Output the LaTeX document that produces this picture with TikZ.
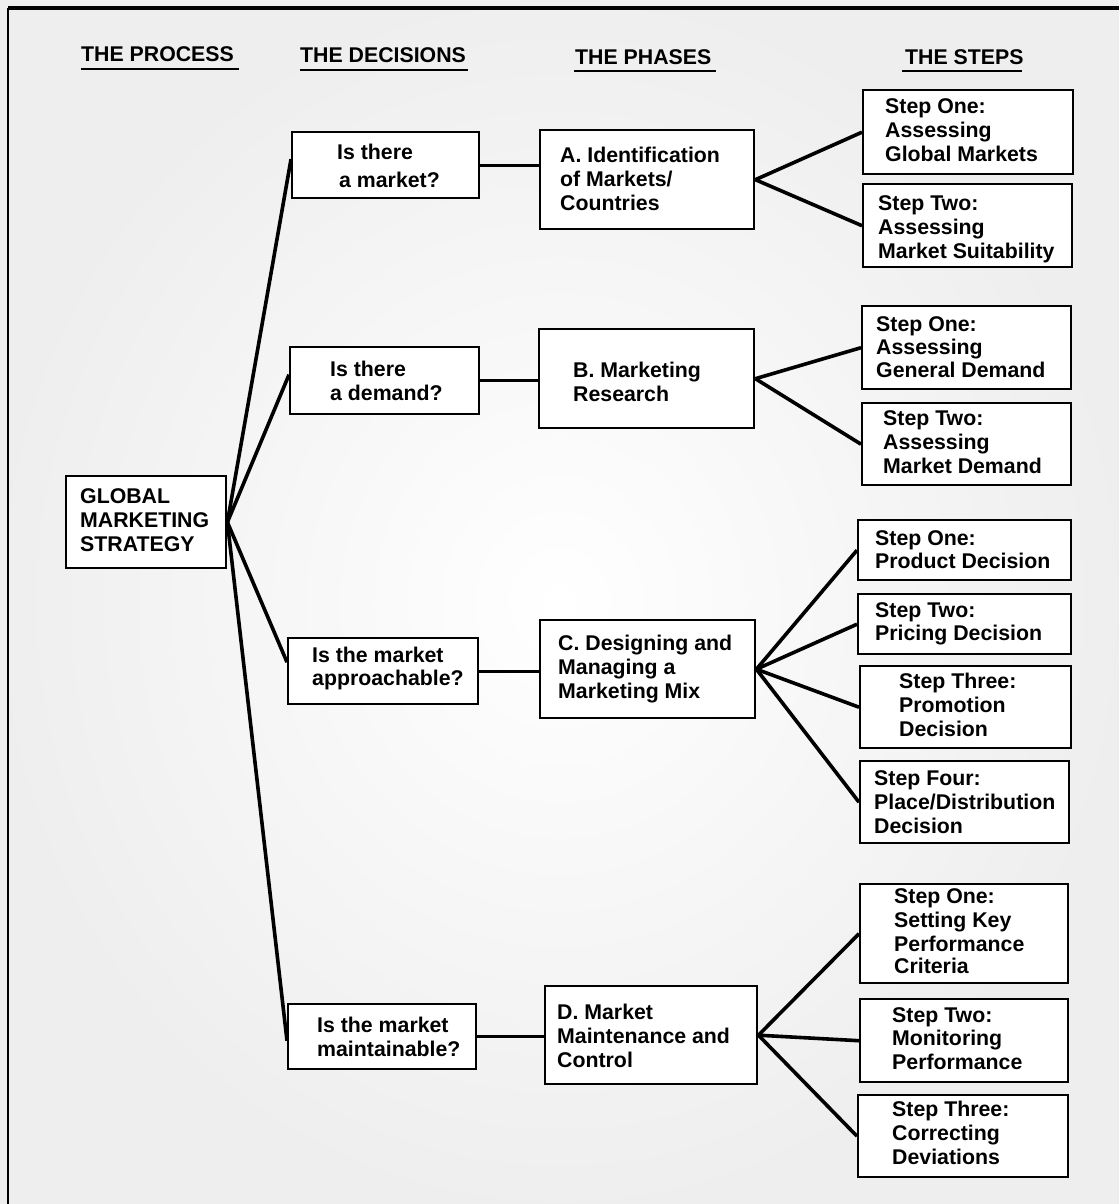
\documentclass[tikz,border=0pt]{standalone}
\usepackage{fontspec}
\setmainfont{Liberation Sans}
\newcommand\mytop{\rule{0pt}{16pt}}
\begin{document}
\begin{tikzpicture}[x=1pt,y=-1pt,
  box/.style={draw=black, fill=white, line width=2.4pt, inner sep=0pt, anchor=north west},
  txt/.style={inner sep=0pt, anchor=north west, align=left, font=\fontsize{21.3}{24}\selectfont\bfseries},
  head/.style={inner sep=0pt, anchor=base west, font=\fontsize{21.3}{24}\selectfont\bfseries},
  ul/.style={line width=2pt},
  conn/.style={line width=3.6pt},
  hconn/.style={line width=3pt}]
\useasboundingbox (0,0) rectangle (1119,1204);
\shade[inner color=white, outer color=gray!13] (0,0) rectangle (1119,1204);
% frame
\draw[line width=3.5pt] (8,8) -- (1119,8);
\draw[line width=2.5pt] (8,8) -- (8,1204);
% headings
\node[head] (hproc) at (81,62) {THE PROCESS};
\node[head] (hdec)  at (300,63) {THE DECISIONS};
\node[head] (hpha)  at (575,65) {THE PHASES};
\node[head] (hste)  at (905,65) {THE STEPS};
\draw[ul] (81,69) -- (239,69);
\draw[ul] (300,70) -- (468,70);
\draw[ul] (574,71) -- (716,71);
\draw[ul] (902,71) -- (1022,71);
% boxes
\node[box, minimum width=160pt, minimum height=92pt] (gms) at (65,475) {};
\node[box, minimum width=187pt, minimum height=66pt] (q1) at (291,131) {};
\node[box, minimum width=189pt, minimum height=67pt] (q2) at (289,346) {};
\node[box, minimum width=190pt, minimum height=66pt] (q3) at (287,637) {};
\node[box, minimum width=188pt, minimum height=65pt] (q4) at (287,1003) {};
\node[box, minimum width=214pt, minimum height=99pt] (pa) at (539,129) {};
\node[box, minimum width=215pt, minimum height=99pt] (pb) at (538,328) {};
\node[box, minimum width=215pt, minimum height=98pt] (pc) at (539,619) {};
\node[box, minimum width=212pt, minimum height=98pt] (pd) at (544,985) {};
\node[box, minimum width=210pt, minimum height=84pt] (a1) at (862,89) {};
\node[box, minimum width=209pt, minimum height=83pt] (a2) at (862,183) {};
\node[box, minimum width=209pt, minimum height=83pt] (b1) at (861,305) {};
\node[box, minimum width=209pt, minimum height=82pt] (b2) at (861,402) {};
\node[box, minimum width=213pt, minimum height=60pt] (c1) at (857,519) {};
\node[box, minimum width=213pt, minimum height=60pt] (c2) at (857,593) {};
\node[box, minimum width=211pt, minimum height=82pt] (c3) at (859,665) {};
\node[box, minimum width=209pt, minimum height=82pt] (c4) at (859,760) {};
\node[box, minimum width=208pt, minimum height=99pt] (d1) at (859,883) {};
\node[box, minimum width=208pt, minimum height=83pt] (d2) at (859,998) {};
\node[box, minimum width=210pt, minimum height=82pt] (d3) at (857,1094) {};
% texts
\node[txt] (tgms) at (80,487) {\mytop GLOBAL\\MARKETING\\STRATEGY};
\node[txt] (tq1) at (337,143) {\mytop Is there\\[4pt]\hspace*{2pt}a market?};
\node[txt] (tq2) at (330,360) {\mytop Is there\\a demand?};
\node[txt] (tq3) at (312,646) {\mytop Is the market\\[-1pt]approachable?};
\node[txt] (tq4) at (317,1016) {\mytop Is the market\\maintainable?};
\node[txt] (tpa) at (560,146) {\mytop A. Identification\\of Markets/\\Countries};
\node[txt] (tpb) at (573,361) {\mytop B. Marketing\\Research};
\node[txt] (tpc) at (558,634) {\mytop C. Designing and\\Managing a\\Marketing Mix};
\node[txt] (tpd) at (557,1003) {\mytop D. Market\\Maintenance and\\Control};
\node[txt] (ta1) at (885,97) {\mytop Step One:\\Assessing\\Global Markets};
\node[txt] (ta2) at (878,194) {\mytop Step Two:\\Assessing\\Market Suitability};
\node[txt] (tb1) at (876,315) {\mytop Step One:\\[-1pt]Assessing\\[-1pt]General Demand};
\node[txt] (tb2) at (883,409) {\mytop Step Two:\\Assessing\\Market Demand};
\node[txt] (tc1) at (875,529) {\mytop Step One:\\[-1pt]Product Decision};
\node[txt] (tc2) at (875,601) {\mytop Step Two:\\[-1pt]Pricing Decision};
\node[txt] (tc3) at (899,672) {\mytop Step Three:\\Promotion\\Decision};
\node[txt] (tc4) at (874,769) {\mytop Step Four:\\Place/Distribution\\Decision};
\node[txt] (td1) at (894,887) {\mytop Step One:\\Setting Key\\Performance\\[-2pt]Criteria};
\node[txt] (td2) at (892,1006) {\mytop Step Two:\\[-1pt]Monitoring\\Performance};
\node[txt] (td3) at (892,1100) {\mytop Step Three:\\Correcting\\Deviations};
% connectors: process -> decisions
\draw[conn] (gms.east) -- ([yshift=6pt]q1.west);
\draw[conn] (gms.east) -- ([yshift=6pt]q2.west);
\draw[conn] (gms.east) -- ([yshift=9pt]q3.west);
\draw[conn] (gms.east) -- ([yshift=-4pt]q4.west);
% decisions -> phases
\draw[hconn] (q1.east) -- (q1.east -| pa.west);
\draw[hconn] (q2.east) -- (q2.east -| pb.west);
\draw[hconn] (q3.east) -- (q3.east -| pc.west);
\draw[hconn] (q4.east) -- (q4.east -| pd.west);
% phases -> steps
\draw[conn] (pa.east) -- (a1.west);
\draw[conn] (pa.east) -- (a2.west);
\draw[conn] (pb.east) -- (b1.west);
\draw[conn] (pb.east) -- (b2.west);
\draw[conn] (pc.east) -- (c1.west);
\draw[conn] (pc.east) -- (c2.west);
\draw[conn] (pc.east) -- (c3.west);
\draw[conn] (pc.east) -- (c4.west);
\draw[conn] (pd.east) -- (d1.west);
\draw[conn] (pd.east) -- (d2.west);
\draw[conn] (pd.east) -- (d3.west);
\end{tikzpicture}
\end{document}
